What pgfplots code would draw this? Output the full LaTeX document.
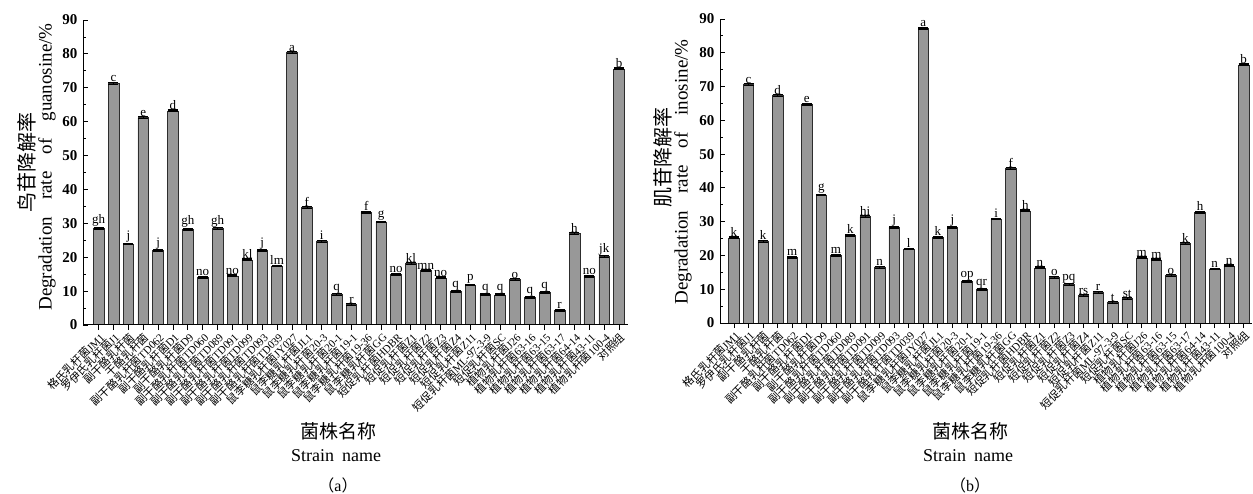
\documentclass[border=0pt]{standalone}
\usepackage{fontspec}
\setmainfont{Liberation Serif}
\newfontfamily\cjk{Noto Sans CJK SC}
\usepackage{pgfplots}
\usepackage{pgfplotstable}
\pgfplotsset{compat=1.18}
\definecolor{barfill}{RGB}{152,152,152}
\definecolor{baredge}{RGB}{45,45,45}

\pgfplotstableread{
x y lab
0 28.6 gh
1 71.3 c
2 23.9 j
3 61.2 e
4 21.9 j
5 63.2 d
6 28.3 gh
7 14.1 no
8 28.5 gh
9 14.5 no
10 19.2 kl
11 21.9 j
12 17.4 lm
13 80.4 a
14 34.6 f
15 24.7 i
16 9.0 q
17 6.0 r
18 33.3 f
19 30.4 g
20 15.0 no
21 18.2 kl
22 16.0 mn
23 13.9 no
24 10.0 q
25 11.8 p
26 9.1 q
27 8.9 q
28 13.4 o
29 8.2 q
30 9.7 q
31 4.4 r
32 27.0 h
33 14.4 no
34 20.2 jk
35 75.6 b
}\guan

\pgfplotstableread{
x y lab
0 25.2 k
1 70.6 c
2 24.2 k
3 67.3 d
4 19.5 m
5 64.8 e
6 37.9 g
7 20.1 m
8 26.0 k
9 31.5 hi
10 16.5 n
11 28.4 j
12 21.9 l
13 87.3 a
14 25.4 k
15 28.2 j
16 12.4 op
17 10.0 qr
18 30.8 i
19 45.8 f
20 33.2 h
21 16.3 n
22 13.5 o
23 11.4 pq
24 8.1 rs
25 9.1 r
26 6.0 t
27 7.2 st
28 19.3 m
29 18.7 m
30 14.0 o
31 23.5 k
32 32.8 h
33 16.0 n
34 16.9 n
35 76.4 b
}\inos

\pgfplotsset{
  common/.style={
    scale only axis, axis on top,
    axis x line*=bottom, axis y line*=left,
    ymin=0, ymax=90, ytick={0,10,...,90}, minor y tick num=1,
    xtick={0,...,35},
    tick align=inside,
    major tick length=5pt, minor tick length=3pt,
    axis line style={line width=1pt, black},
    every tick/.style={black, line width=0.8pt},
    /pgf/number format/assume math mode=true,
    yticklabel style={font=\bfseries\fontsize{15}{15}\selectfont, xshift=-2pt},
    xticklabel style={font=\fontsize{11}{11}\selectfont, rotate=45, anchor=north east, inner sep=1pt},
    xticklabels={
      {\cjk 格氏乳杆菌}JM1,
      {\cjk 罗伊氏乳杆菌}J1,
      {\cjk 副干酪乳杆菌},
      {\cjk 干酪乳杆菌},
      {\cjk 副干酪乳杆菌}TD062,
      {\cjk 副干酪乳杆菌}D1,
      {\cjk 副干酪乳杆菌}D9,
      {\cjk 副干酪乳杆菌}TD060,
      {\cjk 副干酪乳杆菌}TD089,
      {\cjk 副干酪乳杆菌}TD091,
      {\cjk 副干酪乳杆菌}TD099,
      {\cjk 副干酪乳杆菌}TD093,
      {\cjk 副干酪乳杆菌}TD039,
      {\cjk 鼠李糖乳杆菌}JY027,
      {\cjk 鼠李糖乳杆菌}JL1,
      {\cjk 鼠李糖乳杆菌}20-3,
      {\cjk 鼠李糖乳杆菌}20-1,
      {\cjk 鼠李糖乳杆菌}19-1,
      {\cjk 鼠李糖乳杆菌}19-36,
      {\cjk 鼠李糖乳杆菌}GG,
      {\cjk 短促乳杆菌}HDBR,
      {\cjk 短促乳杆菌}Z1,
      {\cjk 短促乳杆菌}Z2,
      {\cjk 短促乳杆菌}Z3,
      {\cjk 短促乳杆菌}Z4,
      {\cjk 短促乳杆菌}Z11,
      {\cjk 短促乳杆菌}ML-97-3-9,
      {\cjk 短促乳杆菌}SC,
      {\cjk 植物乳杆菌}J26,
      {\cjk 植物乳杆菌}63-16,
      {\cjk 植物乳杆菌}63-15,
      {\cjk 植物乳杆菌}63-17,
      {\cjk 植物乳杆菌}64-14,
      {\cjk 植物乳杆菌}43-11,
      {\cjk 植物乳杆菌}100-4,
      {\cjk 对照组}},
    ybar, bar width=0.72,
    nodes near coords, point meta=explicit symbolic,
    nodes near coords style={font=\fontsize{13}{13}\selectfont, inner sep=1pt, anchor=south, text=black},
  },
  barplot/.style={fill=barfill, draw=baredge, line width=0.6pt,
    error bars/.cd, y dir=both, y fixed=0.25,
    error bar style={black, line width=0.6pt},
    error mark options={rotate=90, mark size=5pt, line width=1.2pt, black}},
}

\begin{document}
\begin{tikzpicture}
\useasboundingbox (0,0) rectangle (1253pt,493pt);

\begin{axis}[common, at={(83pt,168pt)}, anchor=south west,
  width=545pt, height=305pt, xmin=-1.05, xmax=35.6]
\addplot[barplot] table[x=x, y=y, meta=lab]{\guan};
\end{axis}

\begin{axis}[common, at={(720pt,170pt)}, anchor=south west,
  width=532pt, height=304pt, xmin=-0.96, xmax=35.57]
\addplot[barplot] table[x=x, y=y, meta=lab]{\inos};
\end{axis}

% y labels
\node[rotate=90, font=\cjk\fontsize{20}{20}\selectfont] at (27pt,330pt) {鸟苷降解率};
\node[rotate=90, font=\fontsize{19}{19}\selectfont] at (47pt,326pt)
  {Degradation\hspace{17pt}rate\hspace{17pt}of\hspace{17pt}guanosine/\%};
\node[rotate=90, font=\cjk\fontsize{20}{20}\selectfont] at (663pt,335pt) {肌苷降解率};
\node[rotate=90, font=\fontsize{19}{19}\selectfont] at (683pt,321pt)
  {Degradation\hspace{17pt}rate\hspace{17pt}of\hspace{17pt}inosine/\%};

% x labels
\node[font=\cjk\fontsize{19}{19}\selectfont] at (338pt,62pt) {菌株名称};
\node[font=\fontsize{18}{18}\selectfont] at (336pt,37pt) {Strain\hspace{8pt}name};
\node[font=\fontsize{16}{16}\selectfont] at (338pt,8pt) {{\cjk （}a{\cjk ）}};

\node[font=\cjk\fontsize{19}{19}\selectfont] at (970pt,62pt) {菌株名称};
\node[font=\fontsize{18}{18}\selectfont] at (968pt,37pt) {Strain\hspace{8pt}name};
\node[font=\fontsize{16}{16}\selectfont] at (970pt,8pt) {{\cjk （}b{\cjk ）}};
\end{tikzpicture}
\end{document}
